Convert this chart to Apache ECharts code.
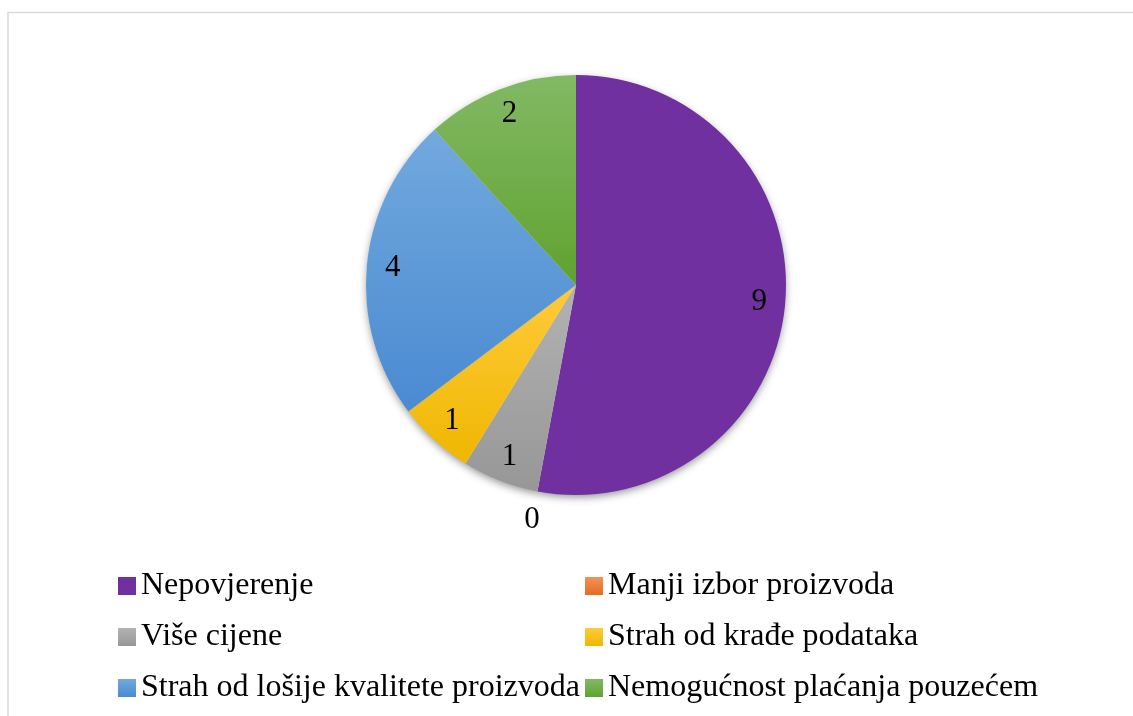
<!DOCTYPE html>
<html>
<head>
<meta charset="utf-8">
<script src="https://cdn.jsdelivr.net/npm/echarts@6/dist/echarts.min.js"></script>
<style>
  html, body { margin: 0; padding: 0; background: #fff; }
  #chart1 { width: 1133px; height: 716px; }
</style>
</head>
<body>
<div id="chart1"></div>
<script>
// kategorije i vrijednosti
const categories = [
  'Nepovjerenje',
  'Manji izbor proizvoda',
  'Više cijene',
  'Strah od krađe podataka',
  'Strah od lošije kvalitete proizvoda',
  'Nemogućnost plaćanja pouzećem'
];
const values = [9, 0, 1, 1, 4, 2];
// boje: [gore, dolje]
const colors = [
  ['#7030a0', '#7030a0'],
  ['#f4915a', '#e56c1f'],
  ['#b2b2b2', '#979797'],
  ['#ffca3a', '#efb700'],
  ['#72a9de', '#4a8ad1'],
  ['#82b964', '#60a230']
];
// legenda u dva stupca
const legendLeft = [categories[0], categories[2], categories[4]];
const legendRight = [categories[1], categories[3], categories[5]];

const font = '"Liberation Serif", "Times New Roman", serif';
const center = [576, 285];

function grad(c) {
  return new echarts.graphic.LinearGradient(0, 0, 0, 1, [
    { offset: 0, color: c[0] },
    { offset: 1, color: c[1] }
  ]);
}

const legendText = { fontFamily: font, fontSize: 32, color: '#000', lineHeight: 32 };

const chart = echarts.init(document.getElementById('chart1'));
chart.setOption({
  animation: false,
  graphic: [{
    type: 'rect',
    shape: { x: 8, y: 12.5, width: 1140, height: 720 },
    style: { fill: 'none', stroke: '#d9d9d9', lineWidth: 1.5 },
    silent: true
  }],
  legend: [
    {
      orient: 'vertical',
      left: 113,
      top: 565,
      data: legendLeft,
      icon: 'rect',
      itemWidth: 18,
      itemHeight: 18,
      itemGap: 19,
      selectedMode: false,
      textStyle: legendText
    },
    {
      orient: 'vertical',
      left: 580,
      top: 565,
      data: legendRight,
      icon: 'rect',
      itemWidth: 18,
      itemHeight: 18,
      itemGap: 19,
      selectedMode: false,
      textStyle: legendText
    }
  ],
  series: [
    {
      // glavni krug
      name: 'main',
      type: 'pie',
      z: 3,
      center: center,
      radius: [0, 210],
      startAngle: 90,
      silent: true,
      label: { show: false },
      labelLine: { show: false },
      data: categories.map((n, i) => ({
        name: n,
        value: values[i],
        itemStyle: { color: grad(colors[i]), borderWidth: 0 }
      }))
    },
    {
      // sjena ispod kruga
      name: 'shadow',
      type: 'pie',
      z: 1,
      center: center,
      radius: [0, 209],
      startAngle: 90,
      silent: true,
      label: { show: false },
      labelLine: { show: false },
      itemStyle: {
        color: '#ffffff',
        borderWidth: 0,
        shadowBlur: 9,
        shadowOffsetY: 3,
        shadowColor: 'rgba(0,0,0,0.45)'
      },
      data: categories.map((n, i) => ({ name: n, value: values[i] }))
    },
    {
      // oznake unutar isječaka
      name: 'labels',
      type: 'pie',
      z: 4,
      center: center,
      radius: [0, 362],
      startAngle: 90,
      silent: true,
      itemStyle: { color: 'rgba(0,0,0,0)', borderWidth: 0 },
      labelLine: { show: false },
      label: {
        position: 'inside',
        formatter: '{c}',
        fontFamily: font,
        fontSize: 31,
        color: '#000'
      },
      data: categories.map((n, i) => ({
        name: n,
        value: values[i],
        label: { show: values[i] > 0 }
      }))
    },
    {
      // oznaka za nulu izvan kruga
      name: 'zero',
      type: 'pie',
      z: 4,
      center: center,
      radius: [0, 472],
      startAngle: 90,
      silent: true,
      itemStyle: { color: 'rgba(0,0,0,0)', borderWidth: 0 },
      labelLine: { show: false },
      label: {
        position: 'inside',
        formatter: '{c}',
        fontFamily: font,
        fontSize: 31,
        color: '#000'
      },
      data: categories.map((n, i) => ({
        name: n,
        value: values[i],
        label: { show: values[i] === 0 }
      }))
    }
  ]
});
</script>
</body>
</html>
